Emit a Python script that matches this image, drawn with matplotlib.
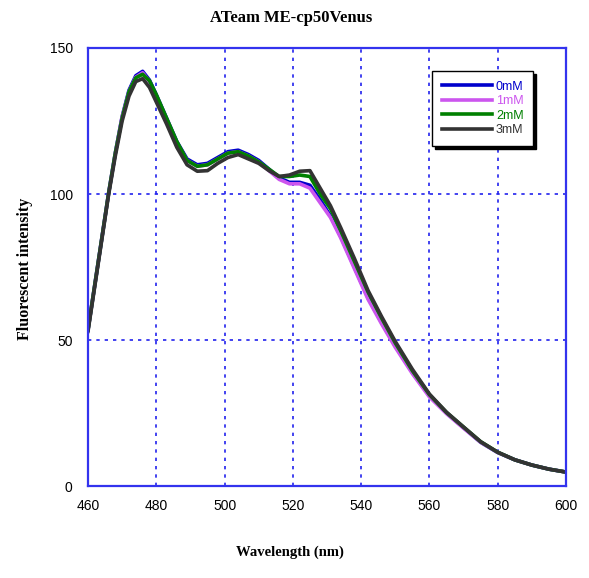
"""Fluorescence spectra of ATeam ME-cp50Venus at several ATP concentrations."""

import matplotlib
matplotlib.use('Agg')
import matplotlib.pyplot as plt

wavelength = [460, 462, 464, 466, 468, 470, 472, 474, 476, 478, 480, 483, 486, 489,
              492, 495, 498, 501, 504, 507, 510, 513, 516, 519, 522, 525, 528, 531,
              534, 538, 542, 546, 550, 555, 560, 565, 570, 575, 580, 585, 590, 595, 600]

conc_0mM = [53.5, 69, 84.5, 100, 114, 126.5, 135.5, 140.5, 142, 139, 134, 126, 118, 112,
            110, 110.5, 112.5, 114.5, 115, 113.5, 111.5, 108.5, 105.5, 104, 104, 103, 98, 92.5,
            85.5, 75, 64.5, 56, 48, 39, 31, 25, 20, 15, 11.5, 9, 7.2, 5.8, 4.8]
conc_1mM = [53.5, 69, 84.5, 100, 114, 126.5, 135, 140, 141.5, 138.5, 133.5, 125.5, 117.5, 111.5,
            109.5, 110, 112, 114, 114.5, 113, 111, 108, 105, 103.5, 103.5, 102, 97, 92,
            85, 74.5, 64, 55.5, 47.5, 38.5, 30.5, 24.8, 19.8, 15, 11.5, 9, 7.2, 5.8, 4.8]
conc_2mM = [53.5, 69, 84.5, 100, 114, 126, 135, 139.8, 141, 138.8, 134, 126, 118, 111.5,
            109.5, 110, 112, 114, 114.5, 113, 111, 108.5, 106, 106, 106.5, 106, 100, 95,
            87.5, 77, 66.5, 57.5, 49, 39.5, 31.3, 25.2, 20.2, 15.2, 11.6, 9, 7.2, 5.8, 4.8]
conc_3mM = [53, 68.5, 84, 99.5, 113, 125, 133.5, 138.5, 139.5, 136.5, 131.5, 124, 116, 110,
            107.8, 108, 110.5, 112.5, 113.5, 112, 110.5, 108, 106, 106.5, 107.8, 108, 102, 96,
            88.5, 78, 67, 58, 49.5, 40, 31.5, 25.3, 20.2, 15.2, 11.6, 9, 7.2, 5.8, 4.8]

series = [
    ('0mM', conc_0mM, '#0000cc'),
    ('1mM', conc_1mM, '#cc55ee'),
    ('2mM', conc_2mM, '#008000'),
    ('3mM', conc_3mM, '#333333'),
]

x_ticks = [460, 480, 500, 520, 540, 560, 580, 600]
y_ticks = [0, 50, 100, 150]

tick_font = 'Liberation Sans'
label_font = 'Liberation Serif'

fig = plt.figure(figsize=(5.89, 5.78), dpi=100)
ax = fig.add_axes([0.1494, 0.159, 0.8116, 0.758])

for name, values, color in series:
    ax.plot(wavelength, values, color=color, linewidth=2.6, label=name)

ax.set_xlim(460, 600)
ax.set_ylim(0, 150)
ax.set_xticks(x_ticks)
ax.set_yticks(y_ticks)
ax.tick_params(length=0, labelsize=10)
ax.tick_params(axis='x', pad=9)
ax.tick_params(axis='y', pad=11)
for lab in ax.get_xticklabels() + ax.get_yticklabels():
    lab.set_family(tick_font)

ax.grid(True, color='#2222ee', linestyle=(0, (2, 3)), linewidth=1.2)
for spine in ax.spines.values():
    spine.set_color('#3333ee')
    spine.set_linewidth(1.6)

# titles are centred on the figure, not on the axes
fig.text(291 / 589, 1 - 18 / 578, 'ATeam ME-cp50Venus', family=label_font,
         fontweight='bold', fontsize=12, ha='center', va='center')
fig.text(290 / 589, 1 - 552 / 578, 'Wavelength (nm)', family=label_font,
         fontweight='bold', fontsize=10.5, ha='center', va='center')
fig.text(25 / 589, 1 - 269 / 578, 'Fluorescent intensity', family=label_font,
         fontweight='bold', fontsize=11.5, rotation=90, ha='center', va='center')

leg = ax.legend(loc='upper right', bbox_to_anchor=(0.945, 0.962), frameon=True,
                fancybox=False, shadow={'color': 'black', 'alpha': 1},
                edgecolor='black', framealpha=1, labelcolor='linecolor',
                prop={'family': tick_font, 'size': 9}, handlelength=4.0,
                labelspacing=0.2, handletextpad=0.3, borderpad=0.8)
leg.get_frame().set_linewidth(1.0)

fig.savefig('out.png', dpi=100)
